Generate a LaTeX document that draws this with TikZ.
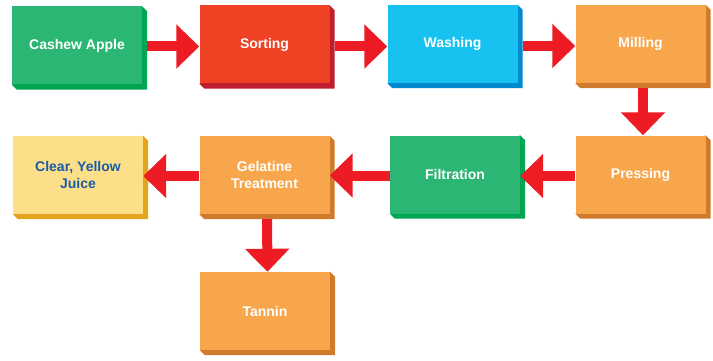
\documentclass[tikz,border=0pt]{standalone}
\usepackage{fontspec}
\setmainfont{Liberation Sans}
\usetikzlibrary{arrows.meta}
\definecolor{grnface}{HTML}{2BB673}
\definecolor{grnside}{HTML}{00A651}
\definecolor{redface}{HTML}{EF4123}
\definecolor{redside}{HTML}{BE1E2D}
\definecolor{bluface}{HTML}{17C2F1}
\definecolor{bluside}{HTML}{0089CF}
\definecolor{orgface}{HTML}{F8A64B}
\definecolor{orgside}{HTML}{CF7B2B}
\definecolor{ylwface}{HTML}{FDDF8A}
\definecolor{ylwside}{HTML}{E3A51E}
\definecolor{flowred}{HTML}{ED1C24}
\definecolor{darkblue}{HTML}{1A5BA6}
\pgfdeclarelayer{back}
\pgfsetlayers{back,main}
\tikzset{
  stagebox/.style={rectangle, minimum width=130pt, minimum height=78pt, inner sep=0pt,
    align=center, text=white, font=\fontsize{14}{16.5}\selectfont\bfseries},
  flow/.style={draw=flowred, line width=10pt, -{Triangle[length=23pt,width=43pt]}},
}
% a stage: front face plus extruded right/bottom sides drawn behind it
\newcommand\stage[5]{%
  \node[stagebox, fill=#3] (#1) at (#2) {#5};
  \begin{pgfonlayer}{back}
  \fill[#4] (#1.north east) -- ++(5,5) -- ([shift={(5,5)}]#1.south east)
    -- ([shift={(5,5)}]#1.south west) -- (#1.south west) -- (#1.center) -- cycle;
  \end{pgfonlayer}
}
\begin{document}
\begin{tikzpicture}[x=1pt,y=-1pt]
\useasboundingbox (0,0) rectangle (713,361);
% top row
\stage{apple}{77,45.5}{grnface}{grnside}{Cashew Apple}
\stage{sort}{264.5,44.5}{redface}{redside}{Sorting}
\stage{wash}{452.5,44}{bluface}{bluside}{Washing}
\stage{mill}{640.5,44}{orgface}{orgside}{Milling}
% bottom row
\stage{juice}{78,175}{ylwface}{ylwside}{\textcolor{darkblue}{Clear, Yellow}\\\textcolor{darkblue}{Juice}}
\stage{gel}{264.5,175}{orgface}{orgside}{Gelatine\\Treatment}
\stage{filt}{455,174.5}{grnface}{grnside}{Filtration}
\stage{press}{640.5,174.5}{orgface}{orgside}{Pressing}
\stage{tannin}{265,311}{orgface}{orgside}{Tannin}
% connectors
\draw[flow] ([shift={(5,1)}]apple.east) -- ([shift={(0,1)}]apple.east -| sort.west);
\draw[flow] ([shift={(5,2)}]sort.east) -- ([shift={(0,2)}]sort.east -| wash.west);
\draw[flow] ([shift={(5,2)}]wash.east) -- ([shift={(0,2)}]wash.east -| mill.west);
\draw[flow] ([shift={(2.5,5)}]mill.south) -- ([shift={(2.5,0)}]press.north);
\draw[flow] ([shift={(0,1.5)}]press.west) -- ([shift={(0,1.5)}]press.west -| filt.east);
\draw[flow] ([shift={(0,1)}]filt.west) -- ([shift={(0,1)}]filt.west -| gel.east);
\draw[flow] ([shift={(0,1)}]gel.west) -- ([shift={(0,1)}]gel.west -| juice.east);
\draw[flow] ([shift={(2.5,5)}]gel.south) -- ([shift={(2.5,0)}]tannin.north);
\end{tikzpicture}
\end{document}
